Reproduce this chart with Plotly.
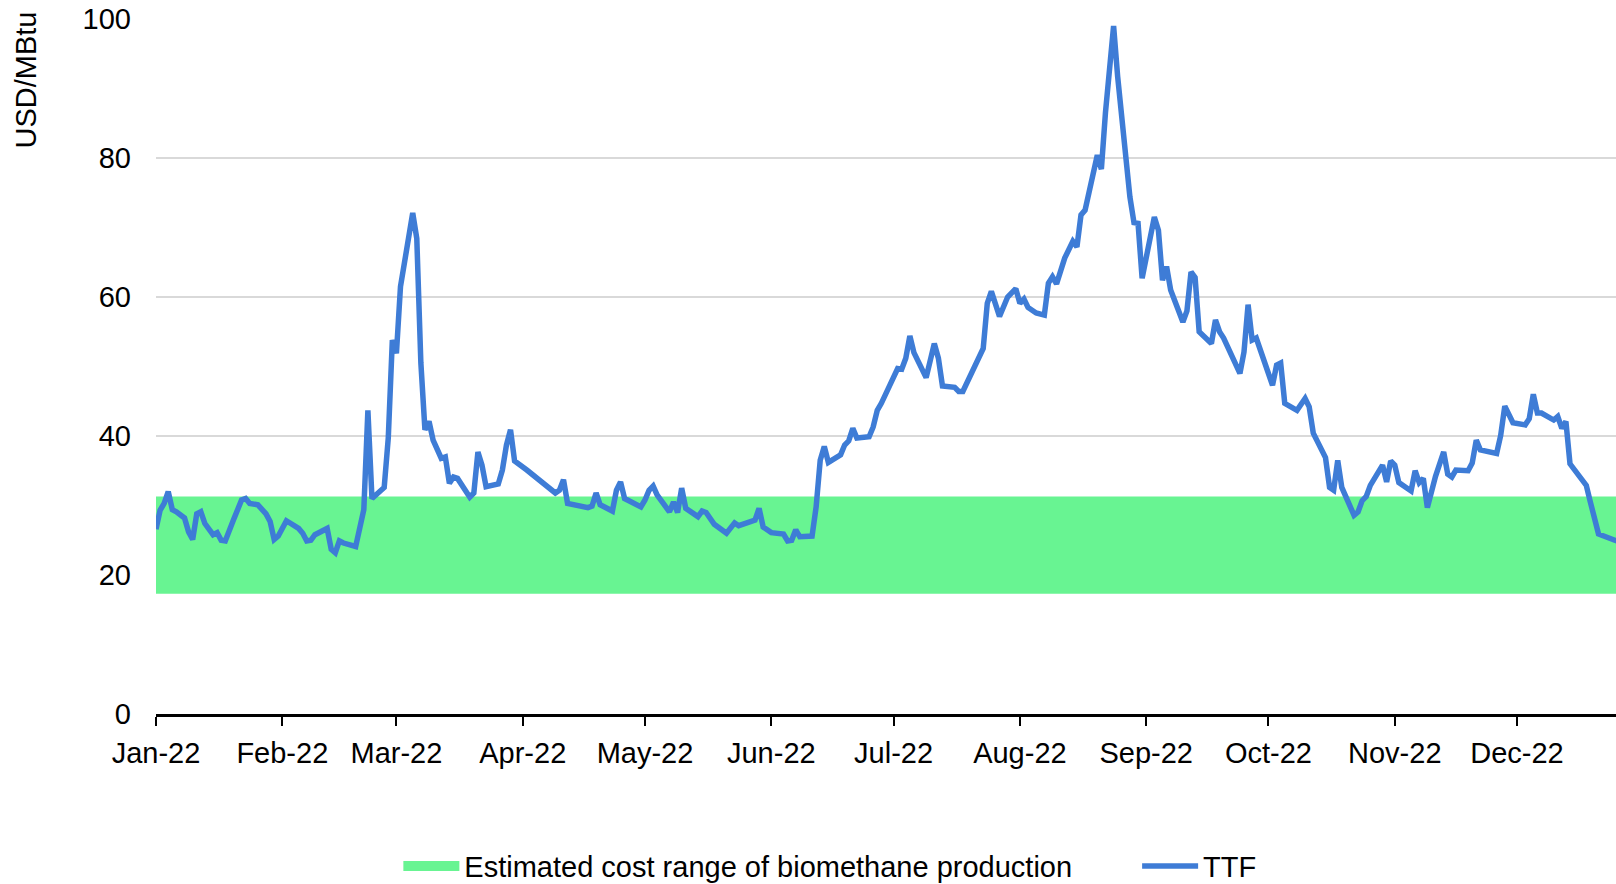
import plotly.graph_objects as go

# ---- data ----
dates = [
    "2022-01-01", "2022-01-02", "2022-01-03", "2022-01-04", "2022-01-05", "2022-01-06",
    "2022-01-08", "2022-01-09", "2022-01-10", "2022-01-11", "2022-01-12", "2022-01-13",
    "2022-01-15", "2022-01-16", "2022-01-17", "2022-01-18", "2022-01-20", "2022-01-22",
    "2022-01-23", "2022-01-24", "2022-01-26", "2022-01-28", "2022-01-29", "2022-01-30",
    "2022-01-31", "2022-02-02", "2022-02-05", "2022-02-06", "2022-02-07", "2022-02-08",
    "2022-02-09", "2022-02-12", "2022-02-13", "2022-02-14", "2022-02-15", "2022-02-16",
    "2022-02-19", "2022-02-20", "2022-02-21", "2022-02-22", "2022-02-23", "2022-02-26",
    "2022-02-27", "2022-02-28", "2022-03-01", "2022-03-02", "2022-03-05", "2022-03-06",
    "2022-03-07", "2022-03-08", "2022-03-09", "2022-03-10", "2022-03-12", "2022-03-13",
    "2022-03-14", "2022-03-15", "2022-03-16", "2022-03-19", "2022-03-20", "2022-03-21",
    "2022-03-22", "2022-03-23", "2022-03-26", "2022-03-27", "2022-03-28", "2022-03-29",
    "2022-03-30", "2022-04-02", "2022-04-05", "2022-04-09", "2022-04-10", "2022-04-11",
    "2022-04-12", "2022-04-17", "2022-04-18", "2022-04-19", "2022-04-20", "2022-04-23",
    "2022-04-24", "2022-04-25", "2022-04-26", "2022-04-30", "2022-05-01", "2022-05-02",
    "2022-05-03", "2022-05-04", "2022-05-07", "2022-05-08", "2022-05-09", "2022-05-10",
    "2022-05-11", "2022-05-14", "2022-05-15", "2022-05-16", "2022-05-18", "2022-05-21",
    "2022-05-23", "2022-05-24", "2022-05-28", "2022-05-29", "2022-05-30", "2022-06-01",
    "2022-06-04", "2022-06-05", "2022-06-06", "2022-06-07", "2022-06-08", "2022-06-11",
    "2022-06-12", "2022-06-13", "2022-06-14", "2022-06-15", "2022-06-18", "2022-06-19",
    "2022-06-20", "2022-06-21", "2022-06-22", "2022-06-25", "2022-06-26", "2022-06-27",
    "2022-06-28", "2022-07-02", "2022-07-03", "2022-07-04", "2022-07-05", "2022-07-06",
    "2022-07-09", "2022-07-11", "2022-07-12", "2022-07-13", "2022-07-16", "2022-07-17",
    "2022-07-18", "2022-07-23", "2022-07-24", "2022-07-25", "2022-07-27", "2022-07-29",
    "2022-07-31", "2022-08-01", "2022-08-02", "2022-08-03", "2022-08-05", "2022-08-07",
    "2022-08-08", "2022-08-09", "2022-08-10", "2022-08-12", "2022-08-14", "2022-08-15",
    "2022-08-16", "2022-08-17", "2022-08-20", "2022-08-21", "2022-08-22", "2022-08-23",
    "2022-08-24", "2022-08-25", "2022-08-27", "2022-08-28", "2022-08-29", "2022-08-30",
    "2022-08-31", "2022-09-03", "2022-09-04", "2022-09-05", "2022-09-06", "2022-09-07",
    "2022-09-10", "2022-09-11", "2022-09-12", "2022-09-13", "2022-09-14", "2022-09-17",
    "2022-09-18", "2022-09-19", "2022-09-20", "2022-09-24", "2022-09-25", "2022-09-26",
    "2022-09-27", "2022-09-28", "2022-10-02", "2022-10-03", "2022-10-04", "2022-10-05",
    "2022-10-08", "2022-10-10", "2022-10-11", "2022-10-12", "2022-10-15", "2022-10-16",
    "2022-10-17", "2022-10-18", "2022-10-19", "2022-10-22", "2022-10-23", "2022-10-24",
    "2022-10-25", "2022-10-26", "2022-10-29", "2022-10-30", "2022-10-31", "2022-11-01",
    "2022-11-02", "2022-11-05", "2022-11-06", "2022-11-07", "2022-11-08", "2022-11-09",
    "2022-11-11", "2022-11-13", "2022-11-14", "2022-11-15", "2022-11-16", "2022-11-19",
    "2022-11-20", "2022-11-21", "2022-11-22", "2022-11-26", "2022-11-27", "2022-11-28",
    "2022-11-30", "2022-12-03", "2022-12-04", "2022-12-05", "2022-12-06", "2022-12-07",
    "2022-12-10", "2022-12-11", "2022-12-12", "2022-12-13", "2022-12-14", "2022-12-16",
    "2022-12-18", "2022-12-19", "2022-12-20", "2022-12-21", "2022-12-25", "2022-12-27",
]

ttf = [
    26.6, 29.3, 30.3, 32.0, 29.4, 29.1,
    28.2, 26.2, 25.1, 28.8, 29.1, 27.4,
    25.8, 26.1, 25.0, 24.9, 27.9, 30.8,
    31.0, 30.3, 30.1, 28.8, 27.7, 25.1,
    25.6, 27.8, 26.7, 26.0, 24.9, 25.0,
    25.8, 26.7, 23.7, 23.2, 24.9, 24.6,
    24.1, 26.9, 29.4, 43.7, 31.0, 32.6,
    39.7, 53.8, 51.9, 61.5, 72.1, 68.4,
    50.5, 40.9, 42.1, 39.4, 36.8, 37.0,
    33.2, 34.1, 33.9, 31.2, 31.8, 37.7,
    35.8, 32.7, 33.1, 35.1, 38.7, 40.9,
    36.4, 35.1, 33.6, 31.8, 32.2, 33.7,
    30.3, 29.7, 29.9, 31.8, 30.1, 29.2,
    32.2, 33.4, 31.0, 29.8, 30.8, 32.2,
    32.8, 31.5, 29.1, 30.5, 29.0, 32.5,
    29.6, 28.4, 29.2, 29.0, 27.3, 26.0,
    27.5, 27.1, 27.9, 29.6, 26.9, 26.1,
    25.9, 24.9, 25.0, 26.5, 25.5, 25.6,
    29.8, 36.5, 38.5, 36.2, 37.3, 38.7,
    39.3, 41.1, 39.7, 39.9, 41.3, 43.7,
    44.7, 49.7, 49.6, 51.2, 54.4, 52.0,
    48.4, 53.3, 51.2, 47.2, 47.0, 46.4,
    46.4, 52.6, 59.1, 60.8, 57.2, 60.0,
    61.2, 59.1, 59.7, 58.5, 57.7, 57.4,
    62.0, 62.9, 61.9, 65.6, 68.0, 67.2,
    71.8, 72.5, 80.4, 78.4, 86.5, 93.5,
    99.0, 91.7, 80.2, 74.4, 70.7, 70.6,
    62.7, 71.5, 69.6, 62.4, 64.4, 61.0,
    56.4, 58.0, 63.6, 62.8, 55.0, 53.3,
    56.7, 55.0, 54.1, 49.0, 52.1, 58.9,
    53.8, 54.1, 47.3, 50.2, 50.5, 44.7,
    43.7, 45.4, 44.2, 40.4, 36.9, 32.6,
    32.2, 36.5, 32.6, 28.6, 29.1, 30.7,
    31.3, 32.9, 35.8, 33.4, 36.4, 35.8,
    33.3, 32.1, 35.0, 33.3, 33.9, 29.7,
    34.2, 37.7, 34.5, 34.1, 35.1, 35.0,
    36.1, 39.4, 38.0, 37.5, 40.1, 44.3,
    41.9, 41.6, 42.5, 46.0, 43.3, 43.3,
    42.3, 42.8, 41.1, 42.1, 36.0, 34.5,
    32.9, 30.5, 28.4, 25.9, 25.0, 24.6,
]

cost_low = 17.3   # USD/MBtu, lower bound of estimated biomethane cost
cost_high = 31.3  # USD/MBtu, upper bound

band_dates = ["2022-01-01", "2022-12-31"]

y_ticks = [0, 20, 40, 60, 80, 100]

FONT = "Liberation Sans, Arial, sans-serif"
FS = 29
GREEN = "#68F492"
BLUE = "#3E7CD6"

fig = go.Figure()

# lower (invisible) edge of the band
fig.add_trace(go.Scatter(
    x=band_dates, y=[cost_low] * len(band_dates),
    mode="lines", line=dict(width=0, color=GREEN),
    showlegend=False, hoverinfo="skip",
))
# upper edge, filled down to the lower edge
fig.add_trace(go.Scatter(
    x=band_dates, y=[cost_high] * len(band_dates),
    mode="lines", line=dict(width=0, color=GREEN),
    fill="tonexty", fillcolor=GREEN,
    name="Estimated cost range of biomethane production",
    legendgroup="band", showlegend=False,
))
# legend swatch for the band (no data of its own)
fig.add_trace(go.Scatter(
    x=[None], y=[None], mode="lines",
    line=dict(width=15, color=GREEN),
    name="Estimated cost range of biomethane production",
    legendgroup="band", showlegend=True, hoverinfo="skip",
    legend="legend",
))
fig.add_trace(go.Scatter(
    x=dates, y=ttf, mode="lines",
    line=dict(color=BLUE, width=5.5),
    name="TTF", legend="legend2",
))

legend_common = dict(
    orientation="h", xanchor="left", yanchor="middle",
    y=-0.219, font=dict(family=FONT, size=FS, color="black"),
    itemwidth=56, bgcolor="rgba(0,0,0,0)",
)

fig.update_layout(
    width=1616, height=884,
    margin=dict(l=156, r=0, t=19, b=170, autoexpand=False),
    plot_bgcolor="white", paper_bgcolor="white",
    font=dict(family=FONT, size=FS, color="black"),
    showlegend=True,
    legend=dict(x=0.166, **legend_common),
    legend2=dict(x=0.672, **legend_common),
    annotations=[dict(
        text="USD/MBtu", textangle=-90,
        xref="paper", yref="paper",
        x=-0.089, y=1.013, xanchor="center", yanchor="top",
        showarrow=False, font=dict(family=FONT, size=FS, color="black"),
    )],
)

fig.update_xaxes(
    type="date",
    range=["2022-01-01", "2022-12-25 07:00"],
    tick0="2022-01-01", dtick="M1", tickformat="%b-%y",
    ticks="outside", ticklen=9, tickwidth=2, tickcolor="black",
    showline=True, linecolor="black", linewidth=2.5,
    showgrid=False, zeroline=False,
    ticklabelstandoff=2,
    tickfont=dict(family=FONT, size=FS, color="black"),
)
fig.update_yaxes(
    range=[0, 100], tickvals=y_ticks,
    showgrid=True, gridcolor="#d9d9d9", gridwidth=2,
    zeroline=False, showline=False, ticks="",
    ticklabelstandoff=24,
    tickfont=dict(family=FONT, size=FS, color="black"),
)

fig.write_html(
    "out.html",
    config={"displayModeBar": False},
    post_script="document.body.style.margin='0px';",
)
